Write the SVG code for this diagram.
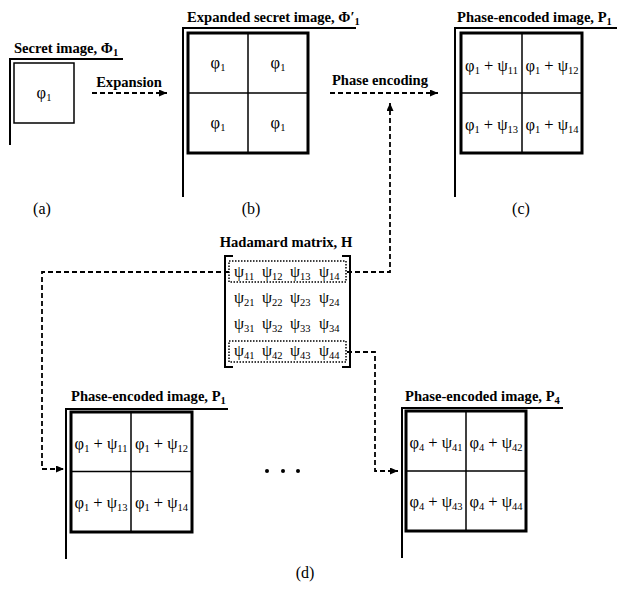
<svg xmlns="http://www.w3.org/2000/svg" width="628" height="589" viewBox="0 0 628 589">
<defs>
<marker id="ah" markerUnits="userSpaceOnUse" markerWidth="8" markerHeight="7" refX="8" refY="3.5" orient="auto">
<path d="M0,0 L8,3.5 L0,7 z" fill="#000"/>
</marker>
</defs>
<style>
text{font-family:"Liberation Serif","Times New Roman",serif;fill:#000}
.t{font-size:14.6px;font-weight:bold}
.c{font-size:16.5px;text-anchor:middle}
.h{font-size:16px}
.s{font-size:10.5px}
.lab{font-size:16px;text-anchor:middle}
.frame{fill:none;stroke:#000;stroke-width:2}
.grid{fill:none;stroke:#000;stroke-width:3}
.div{stroke:#000;stroke-width:1.5}
.dash{fill:none;stroke:#000;stroke-width:1.8;stroke-dasharray:5 3;marker-end:url(#ah)}
.dot{fill:none;stroke:#000;stroke-width:1.5;stroke-dasharray:1.5 1.5}
</style>
<rect width="628" height="589" fill="#fff"/>

<g id="panel-a">
<text class="t" x="14" y="53">Secret image, Φ<tspan class="s" dy="3">1</tspan></text>
<path class="frame" d="M10,145 V59 H123"/>
<rect x="14" y="63" width="60" height="60" fill="none" stroke="#000" stroke-width="1.5"/>
<text class="c" x="44" y="98">φ<tspan class="s" dy="3">1</tspan></text>
<text class="lab" x="42" y="214">(a)</text>
</g>

<g id="panel-b">
<text class="t" x="187" y="22">Expanded secret image, Φ′<tspan class="s" dy="3">1</tspan></text>
<path class="frame" d="M183,197 V28 H356"/>
<rect class="grid" x="188" y="33" width="120" height="120"/>
<line class="div" x1="248" y1="33" x2="248" y2="153"/>
<line class="div" x1="188" y1="93" x2="308" y2="93"/>
<text class="c" x="218" y="68">φ<tspan class="s" dy="3">1</tspan></text>
<text class="c" x="278" y="68">φ<tspan class="s" dy="3">1</tspan></text>
<text class="c" x="218" y="128">φ<tspan class="s" dy="3">1</tspan></text>
<text class="c" x="278" y="128">φ<tspan class="s" dy="3">1</tspan></text>
<text class="lab" x="251" y="214">(b)</text>
</g>

<g id="panel-c">
<text class="t" x="457" y="22">Phase-encoded image,  P<tspan class="s" dy="3">1</tspan></text>
<path class="frame" d="M455,197 V28 H617"/>
<rect class="grid" x="461" y="33" width="121" height="120"/>
<line class="div" x1="522" y1="33" x2="522" y2="153"/>
<line class="div" x1="461" y1="93" x2="582" y2="93"/>
<text class="c" x="491.5" y="71">φ<tspan class="s" dy="3">1</tspan><tspan dy="-3"> + ψ</tspan><tspan class="s" dy="3">11</tspan></text>
<text class="c" x="552" y="71">φ<tspan class="s" dy="3">1</tspan><tspan dy="-3"> + ψ</tspan><tspan class="s" dy="3">12</tspan></text>
<text class="c" x="491.5" y="130">φ<tspan class="s" dy="3">1</tspan><tspan dy="-3"> + ψ</tspan><tspan class="s" dy="3">13</tspan></text>
<text class="c" x="552" y="130">φ<tspan class="s" dy="3">1</tspan><tspan dy="-3"> + ψ</tspan><tspan class="s" dy="3">14</tspan></text>
<text class="lab" x="521" y="214">(c)</text>
</g>

<g id="hadamard">
<text class="t" x="286" y="247" text-anchor="middle">Hadamard matrix, H</text>
<path class="frame" d="M233,256 H225 V367 H233"/>
<path class="frame" d="M342,256 H350 V367 H342"/>
<rect class="dot" x="229" y="261" width="117" height="21"/>
<rect class="dot" x="229" y="341" width="117" height="21"/>
<text class="h" x="234" y="277">ψ<tspan class="s" dy="3">11</tspan></text>
<text class="h" x="262" y="277">ψ<tspan class="s" dy="3">12</tspan></text>
<text class="h" x="290" y="277">ψ<tspan class="s" dy="3">13</tspan></text>
<text class="h" x="319" y="277">ψ<tspan class="s" dy="3">14</tspan></text>
<text class="h" x="234" y="303">ψ<tspan class="s" dy="3">21</tspan></text>
<text class="h" x="262" y="303">ψ<tspan class="s" dy="3">22</tspan></text>
<text class="h" x="290" y="303">ψ<tspan class="s" dy="3">23</tspan></text>
<text class="h" x="319" y="303">ψ<tspan class="s" dy="3">24</tspan></text>
<text class="h" x="234" y="329">ψ<tspan class="s" dy="3">31</tspan></text>
<text class="h" x="262" y="329">ψ<tspan class="s" dy="3">32</tspan></text>
<text class="h" x="290" y="329">ψ<tspan class="s" dy="3">33</tspan></text>
<text class="h" x="319" y="329">ψ<tspan class="s" dy="3">34</tspan></text>
<text class="h" x="234" y="356">ψ<tspan class="s" dy="3">41</tspan></text>
<text class="h" x="262" y="356">ψ<tspan class="s" dy="3">42</tspan></text>
<text class="h" x="290" y="356">ψ<tspan class="s" dy="3">43</tspan></text>
<text class="h" x="319" y="356">ψ<tspan class="s" dy="3">44</tspan></text>
</g>

<g id="panel-d1">
<text class="t" x="71" y="401">Phase-encoded image, P<tspan class="s" dy="3">1</tspan></text>
<path class="frame" d="M66,559 V409 H228"/>
<rect class="grid" x="71" y="412" width="121" height="120"/>
<line class="div" x1="131" y1="412" x2="131" y2="532"/>
<line class="div" x1="71" y1="471.5" x2="192" y2="471.5"/>
<text class="c" x="101" y="449">φ<tspan class="s" dy="3">1</tspan><tspan dy="-3"> + ψ</tspan><tspan class="s" dy="3">11</tspan></text>
<text class="c" x="161.5" y="449">φ<tspan class="s" dy="3">1</tspan><tspan dy="-3"> + ψ</tspan><tspan class="s" dy="3">12</tspan></text>
<text class="c" x="101" y="508">φ<tspan class="s" dy="3">1</tspan><tspan dy="-3"> + ψ</tspan><tspan class="s" dy="3">13</tspan></text>
<text class="c" x="161.5" y="508">φ<tspan class="s" dy="3">1</tspan><tspan dy="-3"> + ψ</tspan><tspan class="s" dy="3">14</tspan></text>
</g>

<g id="ellipsis">
<circle cx="267" cy="471" r="2" fill="#000"/>
<circle cx="283" cy="471" r="2" fill="#000"/>
<circle cx="298" cy="471" r="2" fill="#000"/>
</g>

<g id="panel-d4">
<text class="t" x="405" y="401">Phase-encoded image, P<tspan class="s" dy="3">4</tspan></text>
<path class="frame" d="M402,558 V408 H563"/>
<rect class="grid" x="406" y="411" width="120" height="120"/>
<line class="div" x1="466" y1="411" x2="466" y2="531"/>
<line class="div" x1="406" y1="471" x2="526" y2="471"/>
<text class="c" x="436" y="448">φ<tspan class="s" dy="3">4</tspan><tspan dy="-3"> + ψ</tspan><tspan class="s" dy="3">41</tspan></text>
<text class="c" x="496" y="448">φ<tspan class="s" dy="3">4</tspan><tspan dy="-3"> + ψ</tspan><tspan class="s" dy="3">42</tspan></text>
<text class="c" x="436" y="507">φ<tspan class="s" dy="3">4</tspan><tspan dy="-3"> + ψ</tspan><tspan class="s" dy="3">43</tspan></text>
<text class="c" x="496" y="507">φ<tspan class="s" dy="3">4</tspan><tspan dy="-3"> + ψ</tspan><tspan class="s" dy="3">44</tspan></text>
</g>

<text class="lab" x="305" y="578">(d)</text>

<g id="connectors">
<text class="t" x="129" y="87" text-anchor="middle">Expansion</text>
<path class="dash" d="M92,93 H167"/>
<text class="t" x="380" y="85" text-anchor="middle">Phase encoding</text>
<path class="dash" d="M330,93 H438"/>
<path class="dash" d="M347,272 H390 V103"/>
<path class="dash" d="M229,272 H42 V469 H64"/>
<path class="dash" d="M347,352 H375 V471 H398"/>
</g>
</svg>
